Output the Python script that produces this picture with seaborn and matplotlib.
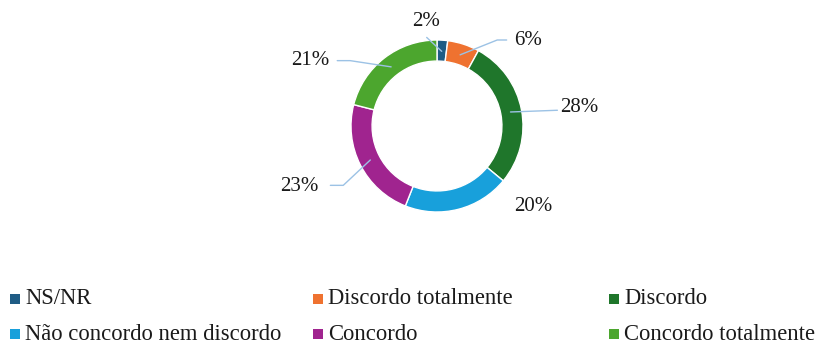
import numpy as np
import matplotlib
matplotlib.use("Agg")
import matplotlib.pyplot as plt
from matplotlib.patches import Rectangle
import seaborn as sns

# Survey answers and their shares (%)
categories = ["NS/NR", "Discordo totalmente", "Discordo",
              "Não concordo nem discordo", "Concordo", "Concordo totalmente"]
shares = [2, 6, 28, 20, 23, 21]
colors = ["#1F5C85", "#EF7230", "#1F762B", "#18A0DB", "#A0248F", "#4CA62E"]

# Label placement (data units, ring outer radius = 1) and leader-line elbows
label_pos = [(-0.13, 1.22), (1.06, 0.99), (1.65, 0.21),
             (1.12, -0.94), (-1.60, -0.70), (-1.47, 0.76)]
elbows = [None, (0.70, 1.0, 0.81), (None, None, 1.40),
          None, (-1.09, -0.69, -1.24), (-1.01, 0.76, -1.16)]
leader_from = [(-0.12, 1.03), None, None, None, None, None]

sns.set_theme(style="white")
plt.rcParams["font.family"] = ["Liberation Serif", "DejaVu Serif"]

W, H = 826, 347
fig = plt.figure(figsize=(W / 100, H / 100), dpi=100)
cx, cy, r = 437, 126, 86
ax = fig.add_axes([(cx - r) / W, (H - cy - r) / H, 2 * r / W, 2 * r / H])
ax.pie(shares, colors=colors, startangle=90, counterclock=False, radius=1.0,
       wedgeprops=dict(width=0.245, edgecolor="white", linewidth=1.0))
ax.set_xlim(-1, 1)
ax.set_ylim(-1, 1)
ax.set_aspect("equal")
ax.axis("off")

line_kw = dict(color="#9CC2E5", lw=1.0, clip_on=False)
cum = np.cumsum([0] + shares)
for i, val in enumerate(shares):
    mid = np.deg2rad(90 - 3.6 * (cum[i] + val / 2))
    sx, sy = 0.87 * np.cos(mid), 0.87 * np.sin(mid)
    tx, ty = label_pos[i]
    if leader_from[i] is not None:
        fx, fy = leader_from[i]
        ax.plot([fx, sx], [fy, sy], **line_kw)
    elb = elbows[i]
    if elb is not None:
        ex, ey, endx = elb
        if ex is None:
            ax.plot([sx, endx], [sy, sy + 0.02], **line_kw)
        else:
            ax.plot([sx, ex, endx], [sy, ey, ey], **line_kw)
    ax.text(tx, ty, f"{val}%", ha="center", va="center", fontsize=15,
            color="#1a1a1a", clip_on=False)

# Legend laid out in two rows of three, equally spaced columns
col_x = [10, 313, 609]
row_y = [299, 334]
sq = 10
for i, (name, col) in enumerate(zip(categories, colors)):
    x = col_x[i % 3]
    y = row_y[i // 3]
    fig.add_artist(Rectangle((x / W, (H - y - sq / 2) / H), sq / W, sq / H,
                             transform=fig.transFigure, facecolor=col,
                             edgecolor="none"))
    fig.text((x + sq + 5) / W, (H - y) / H, name, ha="left", va="center",
             fontsize=16.3, color="#1a1a1a")

fig.savefig("out.png", dpi=100)
